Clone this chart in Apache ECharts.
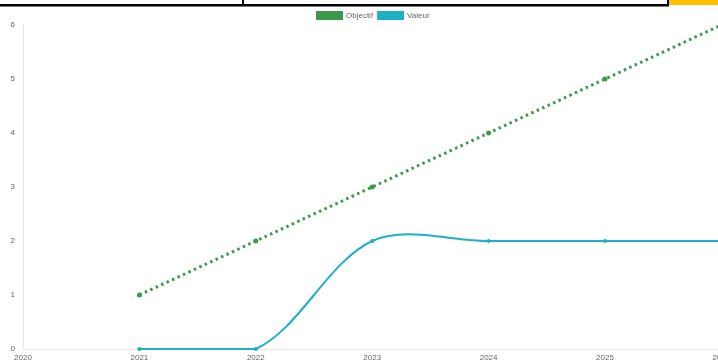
<!DOCTYPE html>
<html><head><meta charset="utf-8">
<script src="https://cdn.jsdelivr.net/npm/echarts@6/dist/echarts.min.js"></script>
<style>html,body{margin:0;padding:0;background:#fff}#c{width:718px;height:363px}</style>
</head><body><div id="c"></div>
<script>
const years = [2021, 2022, 2023, 2024, 2025, 2026];
const objectif = [1, 2, 3, 4, 5, 6];
const valeur = [0, 0, 2, 2, 2, 2];
const xTicks = [2020, 2021, 2022, 2023, 2024, 2025, 2026];
const yTicks = [0, 1, 2, 3, 4, 5, 6];

const green = '#3a9a4a';
const teal = '#1eb0c4';
const font = 'Liberation Sans, Arial, sans-serif';
const tension = 0.33;

// Chart.js-like cubic spline through the Valeur points, using the axes' pixel mapping
function renderValeurCurve(params, api) {
  if (params.dataIndex !== 0) return null;
  const pts = years.map((y, i) => api.coord([y, valeur[i]]));
  const cs = params.coordSys;
  const top = cs.y, bottom = cs.y + cs.height, left = cs.x, right = cs.x + cs.width;
  const cap = p => [Math.max(left, Math.min(right, p[0])), Math.max(top, Math.min(bottom, p[1]))];
  const ctrl = pts.map((cur, i) => {
    const prev = i > 0 ? pts[i - 1] : cur;
    const next = i < pts.length - 1 ? pts[i + 1] : cur;
    const d01 = Math.hypot(cur[0] - prev[0], cur[1] - prev[1]);
    const d12 = Math.hypot(next[0] - cur[0], next[1] - cur[1]);
    let s01 = d01 / (d01 + d12), s12 = d12 / (d01 + d12);
    if (isNaN(s01)) s01 = 0; if (isNaN(s12)) s12 = 0;
    const fa = tension * s01, fb = tension * s12;
    return {
      prev: cap([cur[0] - fa * (next[0] - prev[0]), cur[1] - fa * (next[1] - prev[1])]),
      next: cap([cur[0] + fb * (next[0] - prev[0]), cur[1] + fb * (next[1] - prev[1])])
    };
  });
  const children = [];
  for (let i = 0; i < pts.length - 1; i++) {
    children.push({
      type: 'bezierCurve',
      shape: {x1: pts[i][0], y1: pts[i][1], x2: pts[i + 1][0], y2: pts[i + 1][1],
        cpx1: ctrl[i].next[0], cpy1: ctrl[i].next[1], cpx2: ctrl[i + 1].prev[0], cpy2: ctrl[i + 1].prev[1]},
      style: {stroke: teal, lineWidth: 2, fill: null}
    });
  }
  return {type: 'group', children};
}

const chart = echarts.init(document.getElementById('c'), null, {renderer: 'canvas'});
chart.setOption({
  animation: false,
  grid: {left: 23, width: 698.4, top: 25, height: 324, containLabel: false, outerBoundsMode: 'none'},
  legend: {
    top: 6, left: 311, itemWidth: 27, itemHeight: 9, itemGap: 4,
    textStyle: {fontFamily: font, fontSize: 8, color: '#666', padding: [0, 0, 0, -2]},
    data: [
      {name: 'Objectif', icon: 'rect', itemStyle: {color: green}},
      {name: 'Valeur', icon: 'rect', itemStyle: {color: teal}}
    ]
  },
  xAxis: {
    type: 'value', min: xTicks[0], max: xTicks[xTicks.length - 1], interval: 1,
    axisLine: {show: true, lineStyle: {color: '#e6e6e6', width: 1}},
    axisTick: {show: false},
    splitLine: {show: false},
    axisLabel: {fontFamily: font, fontSize: 8, color: '#666', margin: 5, showMaxLabel: true, showMinLabel: true,
      formatter: v => String(v)}
  },
  yAxis: {
    type: 'value', min: yTicks[0], max: yTicks[yTicks.length - 1], interval: 1,
    axisLine: {show: true, lineStyle: {color: '#e6e6e6', width: 1}},
    axisTick: {show: false},
    splitLine: {show: false},
    axisLabel: {fontFamily: font, fontSize: 8, color: '#666', margin: 8}
  },
  series: [
    {
      name: 'Objectif', type: 'line',
      data: years.map((y, i) => [y, objectif[i]]),
      lineStyle: {color: green, width: 3, type: [2.5, 3.5]},
      itemStyle: {color: green},
      symbol: 'circle', symbolSize: 5, showSymbol: true
    },
    {
      name: 'Valeur', type: 'custom',
      renderItem: renderValeurCurve,
      data: years.map((y, i) => [y, valeur[i]]),
      encode: {x: 0, y: 1},
      itemStyle: {color: teal},
      clip: false, z: 3
    },
    {
      name: 'Valeur', type: 'line',
      data: years.map((y, i) => [y, valeur[i]]),
      lineStyle: {width: 0, opacity: 0},
      itemStyle: {color: teal},
      symbol: 'circle', symbolSize: 4, showSymbol: true, z: 4
    }
  ],
  graphic: [
    {type: 'rect', shape: {x: 669, y: 0, width: 49, height: 5}, style: {fill: '#fcc000'}, z: 100},
    {type: 'rect', shape: {x: 0, y: 4, width: 669, height: 2.5}, style: {fill: '#000'}, z: 100},
    {type: 'rect', shape: {x: 242, y: 0, width: 2, height: 5}, style: {fill: '#000'}, z: 100},
    {type: 'rect', shape: {x: 667, y: 0, width: 2, height: 6}, style: {fill: '#000'}, z: 100}
  ]
});
</script></body></html>
